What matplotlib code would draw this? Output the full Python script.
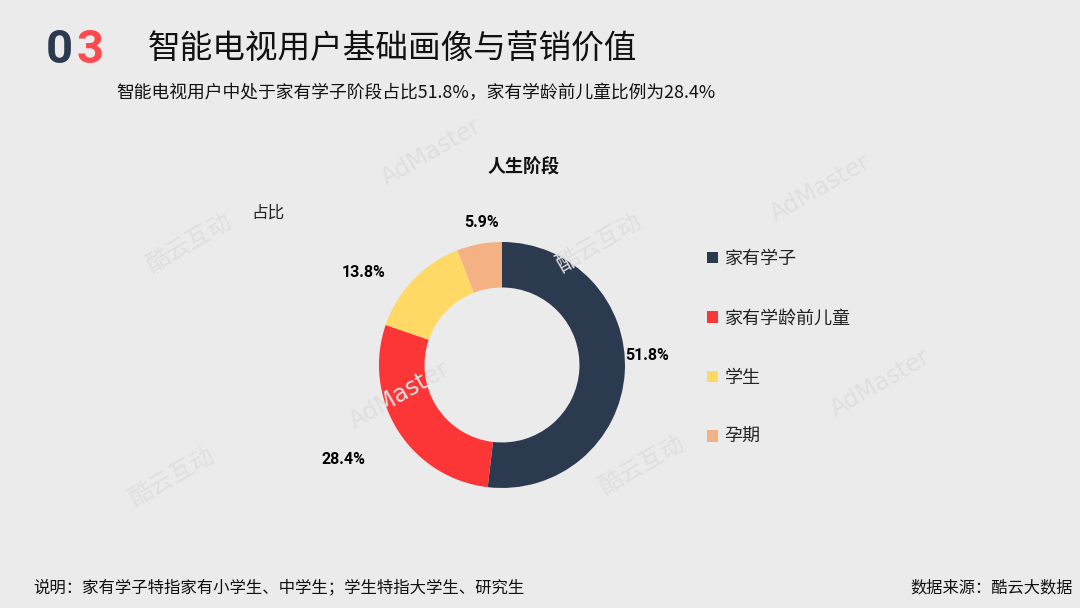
import numpy as np
import matplotlib.pyplot as plt

plt.rcParams['font.family'] = ['Noto Sans CJK SC', 'DejaVu Sans']

# 人生阶段 占比 (%)
categories = ['家有学子', '家有学龄前儿童', '学生', '孕期']
values = [51.8, 28.4, 13.8, 5.9]
colors = ['#2B3A4E', '#FC3536', '#FFD966', '#F4B183']
# 标签位置微调：距离(半径倍数)与角度偏移(度)
label_dist = [1.18, 1.50, 1.35, 1.17]
label_turn = [7, -1.5, 10, -2.6]

bg = '#EBEBEB'
fig = plt.figure(figsize=(10.8, 6.08), dpi=100, facecolor=bg)

# 水印
wm = dict(color='#DFDFDF', fontsize=17, rotation=30, ha='center', va='center', zorder=0)
for x, y in [(0.40, 0.75), (0.76, 0.69), (0.815, 0.37), (0.37, 0.35)]:
    fig.text(x, y, 'AdMaster', family='DejaVu Sans', **wm)
for x, y in [(0.175, 0.60), (0.555, 0.60), (0.16, 0.215), (0.595, 0.235)]:
    fig.text(x, y, '酷云互动', **wm)

# 环形图
ax = fig.add_axes([0.3509, 0.1974, 0.2278, 0.4046])
ax.set_facecolor('none')
wedges, _ = ax.pie(values, colors=colors, startangle=90, counterclock=False,
                   radius=1, wedgeprops=dict(width=0.37, edgecolor='none'))
ax.set_xlim(-1, 1)
ax.set_ylim(-1, 1)
ax.set_aspect('equal')
ax.axis('off')

for w, v, d, t in zip(wedges, values, label_dist, label_turn):
    ang = np.deg2rad((w.theta1 + w.theta2) / 2 + t)
    ax.text(d * np.cos(ang), d * np.sin(ang), f'{v}%', ha='center', va='center',
            fontsize=11.5, fontweight='bold',
            family=['Roboto', 'DejaVu Sans'], color='black')

fig.legend(wedges, categories, loc='upper left', bbox_to_anchor=(0.64, 0.616),
           frameon=False, fontsize=13, handlelength=0.6, handleheight=0.6,
           handletextpad=0.35, labelspacing=2.3, labelcolor='#222222')

# 标题与文字
num = dict(fontsize=34, fontweight='bold', family=['Roboto', 'DejaVu Sans'],
           ha='center', va='center')
fig.text(0.0545, 0.918, '0', color='#2B3A4E', **num)
fig.text(0.0835, 0.918, '3', color='#FC4B4E', **num)
fig.text(0.137, 0.918, '智能电视用户基础画像与营销价值', fontsize=23.5,
         color='#111111', ha='left', va='center')
fig.text(0.108, 0.847, '智能电视用户中处于家有学子阶段占比51.8%，家有学龄前儿童比例为28.4%',
         fontsize=12.8, color='#111111', ha='left', va='center')
fig.text(0.485, 0.725, '人生阶段', fontsize=13, fontweight='bold',
         color='#111111', ha='center', va='center')
fig.text(0.248, 0.650, '占比', fontsize=12, color='#222222',
         ha='center', va='center')
fig.text(0.031, 0.033, '说明：家有学子特指家有小学生、中学生；学生特指大学生、研究生',
         fontsize=11.8, color='#111111', ha='left', va='center')
fig.text(0.993, 0.033, '数据来源：酷云大数据', fontsize=11.7, color='#111111',
         ha='right', va='center')

fig.savefig('out.png', dpi=100, facecolor=bg)
